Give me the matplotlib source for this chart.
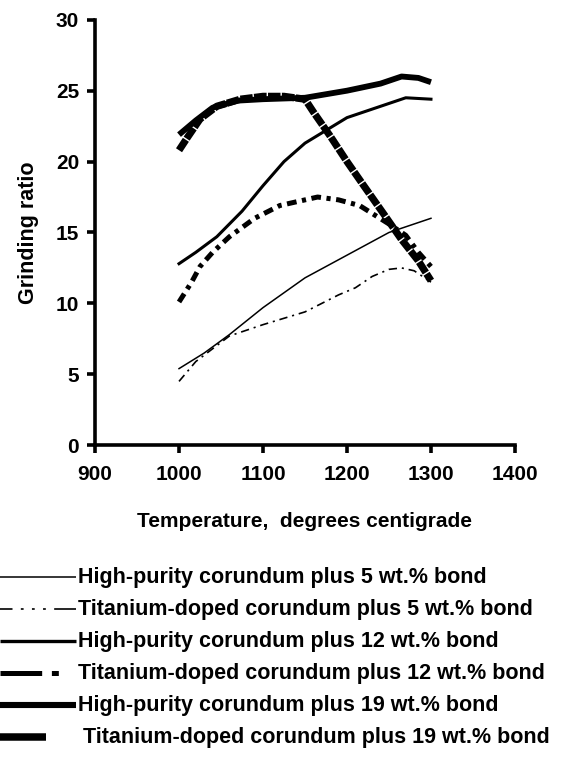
import matplotlib
matplotlib.use('Agg')
import matplotlib.pyplot as plt
from matplotlib.lines import Line2D

plt.rcParams.update({
    'font.family': ['Liberation Sans', 'DejaVu Sans'],
    'font.weight': 'bold',
    'axes.labelweight': 'bold',
    'font.size': 15,
    'axes.spines.top': False,
    'axes.spines.right': False,
    'lines.scale_dashes': False,
})

# values
hp5_t = [1000, 1030, 1060, 1100, 1150, 1200, 1250, 1300]
hp5_v = [5.4, 6.5, 7.8, 9.7, 11.8, 13.4, 15.0, 16.0]

ti5_t = [1000, 1020, 1060, 1100, 1150, 1190, 1210, 1230, 1250, 1265, 1280, 1300]
ti5_v = [4.5, 5.9, 7.7, 8.5, 9.4, 10.6, 11.1, 11.9, 12.4, 12.5, 12.3, 11.5]

hp12_t = [1000, 1020, 1045, 1075, 1100, 1125, 1150, 1200, 1240, 1270, 1300]
hp12_v = [12.8, 13.6, 14.7, 16.5, 18.3, 20.0, 21.3, 23.1, 23.9, 24.5, 24.4]

ti12_t = [1000, 1015, 1025, 1040, 1060, 1090, 1120, 1165, 1190, 1215, 1250, 1270, 1285, 1300]
ti12_v = [10.1, 11.5, 12.6, 13.6, 14.7, 16.0, 16.9, 17.5, 17.3, 16.9, 15.6, 14.8, 13.6, 12.6]

hp19_t = [1000, 1020, 1040, 1070, 1100, 1150, 1200, 1240, 1265, 1285, 1300]
hp19_v = [21.9, 22.9, 23.8, 24.3, 24.4, 24.5, 25.0, 25.5, 26.0, 25.9, 25.6]

ti19_t = [1000, 1010, 1025, 1045, 1073, 1100, 1125, 1150, 1160, 1180, 1200, 1220, 1245, 1265, 1285, 1300]
ti19_v = [20.8, 21.7, 23.0, 23.9, 24.4, 24.6, 24.6, 24.4, 23.5, 21.8, 20.0, 18.3, 16.2, 14.5, 13.0, 11.6]

labels = [
    'High-purity corundum plus 5 wt.% bond',
    'Titanium-doped corundum plus 5 wt.% bond',
    'High-purity corundum plus 12 wt.% bond',
    'Titanium-doped corundum plus 12 wt.% bond',
    'High-purity corundum plus 19 wt.% bond',
    'Titanium-doped corundum plus 19 wt.% bond',
]

fig = plt.figure(figsize=(5.76, 7.61), dpi=100)
ax = fig.add_axes([0.165, 0.415, 0.729, 0.559])

K = 'black'
ax.plot(hp5_t, hp5_v, color=K, lw=1.1)
ax.plot(ti5_t, ti5_v, color=K, lw=1.2, dashes=(6, 3.5, 1.5, 3.5))
ax.plot(hp12_t, hp12_v, color=K, lw=2.2)
ax.plot(ti12_t, ti12_v, color=K, lw=3.6, dashes=(7, 4, 3, 4))
ax.plot(hp19_t, hp19_v, color=K, lw=4.2, solid_capstyle='butt')
ax.plot(ti19_t, ti19_v, color=K, lw=5.2, dashes=(9, 1))

ax.set_xlim(900, 1400)
ax.set_ylim(0, 30)
ax.set_xticks(range(900, 1401, 100))
ax.set_yticks(range(0, 31, 5))
for s in ('left', 'bottom'):
    ax.spines[s].set_linewidth(2.6)
ax.tick_params(width=2.6, length=5.5, labelsize=15)
ax.tick_params(axis='x', pad=9)
ax.tick_params(axis='y', pad=6)
ax.set_xlabel('Temperature,  degrees centigrade', fontsize=15, labelpad=20)
ax.set_ylabel('Grinding ratio', fontsize=15.5, labelpad=12)

# legend drawn by hand, as in the figure
row_y = [577, 609, 641, 673, 705, 737]
styles = [
    dict(lw=1.1),
    dict(lw=1.2, dashes=(9, 6, 2, 6, 2, 6, 2, 6, 10, 0)),
    dict(lw=2.4),
    dict(lw=3.6, dashes=(30, 7, 5, 100)),
    dict(lw=4.4),
    dict(lw=5.4),
]
ends = [76, 76, 76, 62, 76, 46]
for y, st, x1, lab in zip(row_y, styles, ends, labels):
    yf = 1 - y / 761
    fig.add_artist(Line2D([0, x1 / 576], [yf, yf], color=K, transform=fig.transFigure,
                          solid_capstyle='butt', **st))
    xt = 83 if lab.endswith('19 wt.% bond') and lab.startswith('Ti') else 78
    fig.text(xt / 576, yf, lab, fontsize=15.5, va='center', ha='left')

fig.savefig('out.png', dpi=100)
